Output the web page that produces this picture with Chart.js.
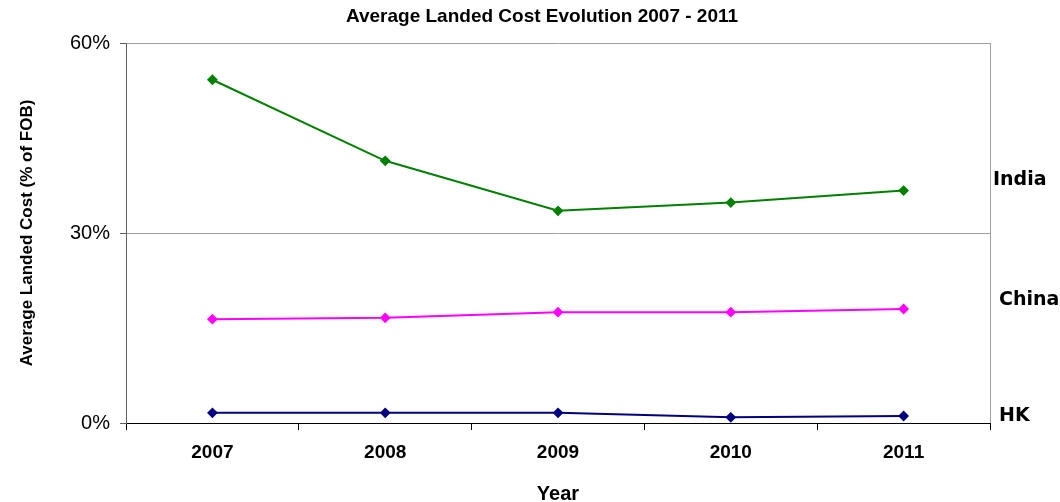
<!DOCTYPE html>
<html>
<head>
<meta charset="utf-8">
<script src="https://cdn.jsdelivr.net/npm/chart.js@4"></script>
<style>
  html, body { margin: 0; padding: 0; background: #fff; }
  #wrap { width: 1060px; height: 502px; position: relative; }
</style>
</head>
<body>
<div id="wrap"><canvas id="costChart"></canvas></div>
<script>
// values (% of FOB)
const years = ["2007", "2008", "2009", "2010", "2011"];
const india = [54.2, 41.4, 33.5, 34.8, 36.7];
const china = [16.4, 16.6, 17.5, 17.5, 18.0];
const hk = [1.6, 1.6, 1.6, 0.9, 1.1];
const yTicks = [0, 30, 60];

// series names drawn at the right of the plot
const seriesLabels = ["India", "China", "HK"];
const chartTitle = "Average Landed Cost Evolution 2007 - 2011";

const makeSet = (label, data, color) => ({
  label: label,
  data: data,
  borderColor: color,
  backgroundColor: color,
  borderWidth: 2,
  pointStyle: "rectRot",
  pointRadius: 4,
  pointHoverRadius: 4,
  tension: 0,
});

// title, right border of the plot and the names next to the last points
const extras = {
  id: "extras",
  afterDraw(chart) {
    const { ctx, chartArea, scales } = chart;
    ctx.save();
    ctx.strokeStyle = "#a0a0a0";
    ctx.lineWidth = 1;
    ctx.beginPath();
    ctx.moveTo(chartArea.right + 0.5, chartArea.top);
    ctx.lineTo(chartArea.right + 0.5, chartArea.bottom);
    ctx.stroke();

    ctx.fillStyle = "#000";
    ctx.textBaseline = "middle";
    ctx.textAlign = "center";
    ctx.font = "bold 19px 'Liberation Sans', Arial";
    ctx.fillText(chartTitle, 542, 17);

    const nudge = [-11, -9, 0]; // px, keeps the names clear of the lines
    const xOff = [3, 9, 9];
    ctx.textAlign = "left";
    ctx.font = "bold 19px 'DejaVu Sans'";
    chart.data.datasets.forEach((ds, i) => {
      const last = ds.data[ds.data.length - 1];
      const y = scales.y.getPixelForValue(last) + nudge[i];
      ctx.fillText(seriesLabels[i], chartArea.right + xOff[i], y);
    });
    ctx.restore();
  },
};

const ctx = document.getElementById("costChart").getContext("2d");
new Chart(ctx, {
  type: "line",
  data: {
    labels: years,
    datasets: [
      makeSet("India", india, "#008000"),
      makeSet("China", china, "#ff00ff"),
      makeSet("HK", hk, "#000080"),
    ],
  },
  options: {
    responsive: true,
    maintainAspectRatio: false,
    animation: false,
    layout: { padding: { top: 43, right: 70, left: 0, bottom: 0 } },
    plugins: {
      legend: { display: false },
      tooltip: { enabled: false },
      title: { display: false },
    },
    scales: {
      x: {
        offset: true,
        afterFit(scale) {
          scale.height = 79;
        },
        grid: {
          offset: true,
          drawOnChartArea: false,
          color: "#000",
          tickLength: 7,
        },
        border: { color: "#000", width: 1 },
        ticks: {
          color: "#000",
          font: { family: "'Liberation Sans', Arial", size: 19, weight: "bold" },
          padding: 11,
        },
        title: {
          display: true,
          text: "Year",
          color: "#000",
          font: { family: "'Liberation Sans', Arial", size: 20, weight: "bold", lineHeight: 0.8 },
          padding: { top: 0, bottom: 0 },
        },
      },
      y: {
        min: 0,
        max: 60,
        afterBuildTicks(scale) {
          scale.ticks = yTicks.map((v) => ({ value: v }));
        },
        afterFit(scale) {
          scale.width = 126;
        },
        grid: {
          color: (c) => (c.tick && c.tick.value === 0 ? "rgba(0,0,0,0)" : "#a0a0a0"),
          tickColor: "#606060",
          tickLength: 6,
        },
        border: { color: "#606060", width: 1 },
        ticks: {
          color: "#000",
          font: { family: "'Liberation Sans', Arial", size: 20 },
          padding: 10,
          callback: (v) => v + "%",
        },
        title: {
          display: true,
          text: "Average Landed Cost (% of FOB)",
          color: "#000",
          font: { family: "'Liberation Sans', Arial", size: 17, weight: "bold" },
          padding: { top: 17, bottom: 0 },
        },
      },
    },
  },
  plugins: [extras],
});
</script>
</body>
</html>
